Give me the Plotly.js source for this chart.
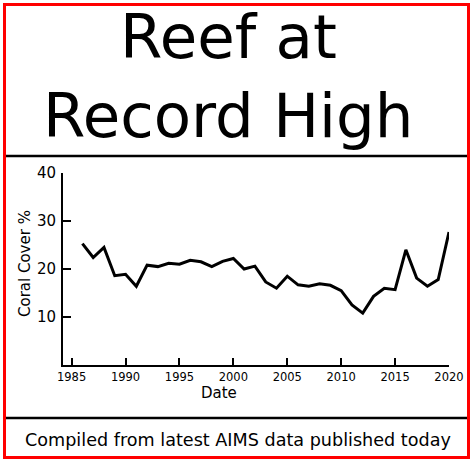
<!DOCTYPE html>
<html>
<head>
<meta charset="utf-8">
<script src="https://cdn.plot.ly/plotly-3.0.1.min.js"></script>
<style>html,body{margin:0;padding:0;background:#fff;}#chart{width:473px;height:461px;}</style>
</head>
<body>
<div id="chart"></div>
<script>
var years = [1986,1987,1988,1989,1990,1991,1992,1993,1994,1995,1996,1997,1998,1999,2000,2001,2002,2003,2004,2005,2006,2007,2008,2009,2010,2011,2012,2013,2014,2015,2016,2017,2018,2019,2020];
var coralCover = [25.3,22.4,24.5,18.6,18.9,16.4,20.8,20.5,21.2,21.0,21.8,21.5,20.5,21.6,22.2,20.0,20.6,17.3,16.0,18.5,16.7,16.4,16.9,16.6,15.5,12.5,10.8,14.3,16.0,15.7,24.0,18.1,16.4,17.8,27.7];
var xTickVals = [1985,1990,1995,2000,2005,2010,2015,2020];
var yTickVals = [10,20,30,40];
var titleLines = ["Reef at", "Record High"];
var footerText = "Compiled from latest AIMS data published today";
var xTitle = "Date";
var yTitle = "Coral Cover %";

var W = 473, H = 461;
var L = 63, R = 24, T = 173, B = 96;
var PW = W - L - R, PH = H - T - B;
function px(x){ return (x - L) / PW; }
function py(y){ return (H - B - y) / PH; }

var FONT = "DejaVu Sans, Verdana, sans-serif";

var trace = {
  x: years, y: coralCover, type: 'scatter', mode: 'lines',
  line: {color: '#000', width: 3}, hoverinfo: 'skip'
};

var layout = {
  width: W, height: H,
  margin: {l: L, r: R, t: T, b: B, pad: 0},
  paper_bgcolor: '#fff', plot_bgcolor: '#fff',
  showlegend: false,
  font: {family: FONT, color: '#000'},
  xaxis: {
    range: [1984.2, 2020], tickvals: xTickVals, ticktext: xTickVals.map(String),
    ticks: 'inside', ticklen: 7, tickwidth: 2, tickcolor: '#000',
    showline: true, linewidth: 2, linecolor: '#000',
    showgrid: false, zeroline: false, tickfont: {size: 11.5, family: FONT},
    ticklabelstandoff: 0, fixedrange: true
  },
  yaxis: {
    range: [0, 40], tickvals: yTickVals, ticktext: yTickVals.map(String),
    ticks: 'inside', ticklen: 8, tickwidth: 2, tickcolor: '#000',
    showline: true, linewidth: 2, linecolor: '#000',
    showgrid: false, zeroline: false, tickfont: {size: 15, family: FONT},
    ticklabelstandoff: 2, fixedrange: true
  },
  shapes: [
    {type: 'rect', xref: 'paper', yref: 'paper', x0: px(4.5), x1: px(468.5), y0: py(4.5), y1: py(457.5),
     line: {color: '#ff0000', width: 3}, fillcolor: 'rgba(0,0,0,0)'},
    {type: 'line', xref: 'paper', yref: 'paper', x0: px(6), x1: px(467), y0: py(156), y1: py(156),
     line: {color: '#000', width: 2.5}},
    {type: 'line', xref: 'paper', yref: 'paper', x0: px(6), x1: px(467), y0: py(418), y1: py(418),
     line: {color: '#000', width: 2.5}}
  ],
  annotations: [
    {text: titleLines[0], xref: 'paper', yref: 'paper', x: px(228), y: py(36), xanchor: 'center', yanchor: 'middle',
     showarrow: false, font: {size: 61, family: FONT, color: '#000'}},
    {text: titleLines[1], xref: 'paper', yref: 'paper', x: px(228), y: py(115.5), xanchor: 'center', yanchor: 'middle',
     showarrow: false, font: {size: 61, family: FONT, color: '#000'}},
    {text: footerText, xref: 'paper', yref: 'paper', x: px(237.5), y: py(439.5), xanchor: 'center', yanchor: 'middle',
     showarrow: false, font: {size: 17.6, family: FONT, color: '#000'}},
    {text: xTitle, xref: 'paper', yref: 'paper', x: px(219), y: py(393), xanchor: 'center', yanchor: 'middle',
     showarrow: false, font: {size: 15, family: FONT, color: '#000'}},
    {text: yTitle, xref: 'paper', yref: 'paper', x: px(25), y: py(264), xanchor: 'center', yanchor: 'middle',
     textangle: -90, showarrow: false, font: {size: 15, family: FONT, color: '#000'}}
  ]
};

Plotly.newPlot('chart', [trace], layout, {staticPlot: true, displayModeBar: false});
</script>
</body>
</html>
